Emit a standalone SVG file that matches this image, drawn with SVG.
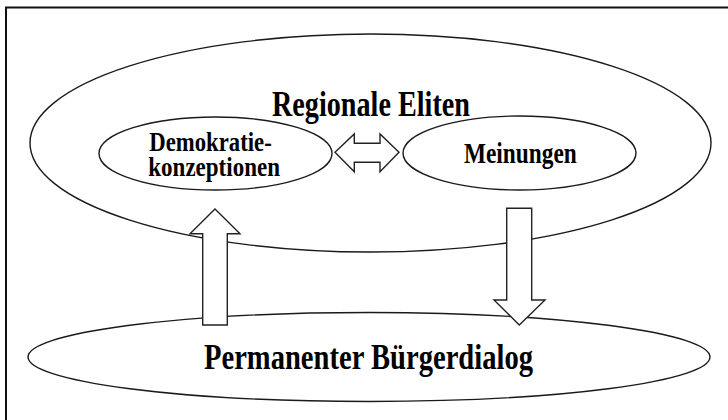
<svg xmlns="http://www.w3.org/2000/svg" width="728" height="420" viewBox="0 0 728 420">
<style>
.e{fill:none;stroke:#1a1a1a;stroke-width:1.4}
.a{fill:#fff;stroke:#222;stroke-width:1.4;stroke-linejoin:miter}
.t{font-family:"Liberation Serif","Times New Roman",serif;font-weight:bold;fill:#000}
.big{font-size:35px}
.sm{font-size:28.5px}
.sm2{font-size:26.5px}
</style>
<rect width="728" height="420" fill="#fff"/>
<rect x="6" y="7.5" width="740" height="430" fill="none" stroke="#111" stroke-width="2"/>
<g id="regionale-eliten">
<ellipse class="e" cx="370.5" cy="143" rx="340.5" ry="109"/>
<text class="t big" x="272" y="116" textLength="198" lengthAdjust="spacingAndGlyphs">Regionale Eliten</text>
</g>
<g id="demokratiekonzeptionen">
<ellipse class="e" cx="215.5" cy="153.5" rx="116.5" ry="36.5"/>
<text class="t sm2"><tspan x="149.3" y="150.5" textLength="122.4" lengthAdjust="spacingAndGlyphs">Demokratie-</tspan><tspan x="148.3" y="175.5" textLength="131.7" lengthAdjust="spacingAndGlyphs">konzeptionen</tspan></text>
</g>
<g id="meinungen">
<ellipse class="e" cx="519.5" cy="153" rx="116.5" ry="37"/>
<text class="t sm" x="464" y="162.7" textLength="112.7" lengthAdjust="spacingAndGlyphs">Meinungen</text>
</g>
<g id="buergerdialog">
<ellipse class="e" cx="369" cy="357" rx="341" ry="44.5"/>
<text class="t big" x="204" y="369" textLength="329" lengthAdjust="spacingAndGlyphs">Permanenter Bürgerdialog</text>
</g>
<g id="connectors">
<polygon class="a" points="335,152.3 354.3,134 354.3,143.3 380,143.3 380,134 399,152.3 380,171.7 380,162.3 354.3,162.3 354.3,171.7"/>
<polygon class="a" points="215,209 240,233.7 227.3,233.7 227.3,325 202.7,325 202.7,233.7 190,233.7"/>
<polygon class="a" points="506.7,208.3 531.7,208.3 531.7,300 545,300 519.3,325 494,300 506.7,300"/>
</g>
</svg>
